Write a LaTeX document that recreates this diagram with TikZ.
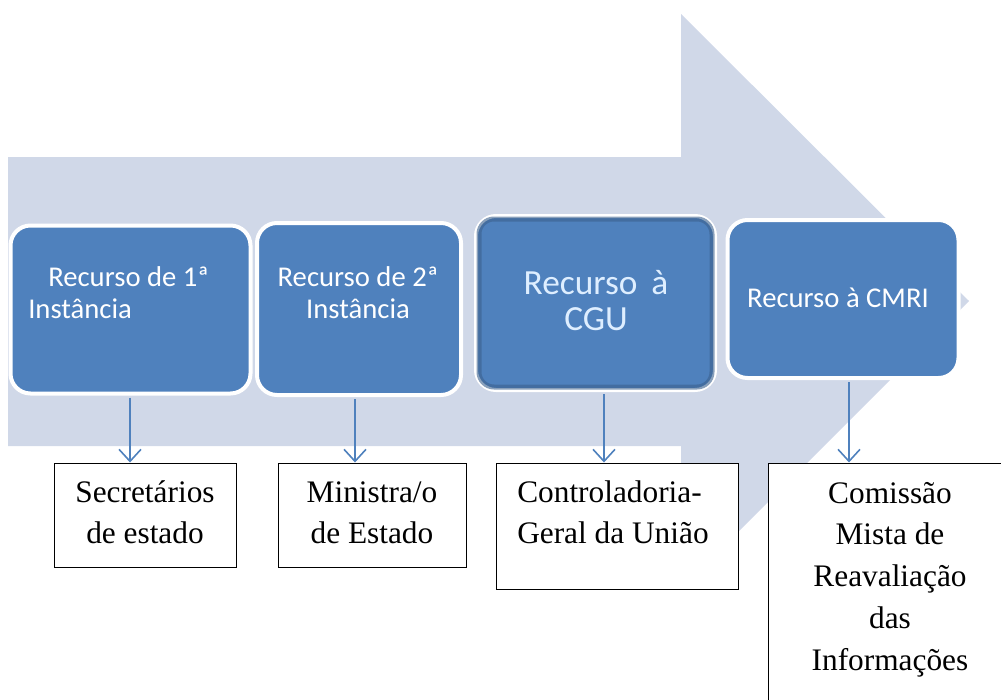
\documentclass[tikz,border=0pt]{standalone}
\usepackage{fontspec}
\setmainfont{Liberation Serif}
\newfontfamily\calibri{Carlito}
\usetikzlibrary{arrows.meta}
\newdimen\pix \pix=0.75pt

\begin{document}
\begin{tikzpicture}[x=\pix,y=-\pix,
  stage/.style={rounded corners=20\pix, fill=stage blue, draw=white, line width=4\pix, inner sep=0pt},
  stagetext/.style={font=\calibri\fontsize{21.5}{24}\selectfont, text=white, align=center, inner sep=0pt},
  office/.style={draw=black, fill=white, line width=1\pix, inner sep=0pt},
  officetext/.style={font=\fontsize{23.5}{30.5}\selectfont, align=center, inner sep=0pt},
  flow/.style={draw=stage blue, line width=1.2pt, shorten <=1.5pt, -{Straight Barb[length=9pt,width=16.5pt]}}]
\definecolor{stage blue}{RGB}{79,129,189}
\definecolor{arrow area}{RGB}{208,216,232}
\definecolor{cgu text}{RGB}{222,238,255}
\useasboundingbox (0,0) rectangle (1001,700);
\clip (0,0) rectangle (1001,700);

% big process arrow
\fill[arrow area] (8,157) -- (681,157) -- (681,14) -- (969,301) -- (681,589) -- (681,446) -- (8,446) -- cycle;

\node[stage, minimum width=240\pix, minimum height=168\pix] (b1) at (130.5,309.5) {};
\node[stage, minimum width=204\pix, minimum height=172\pix] (b2) at (359,309) {};
\node[stage, minimum width=239\pix, minimum height=174\pix] (b3) at (595.5,303) {};
\draw[stage blue!75!black, opacity=.6, line width=5\pix, rounded corners=15\pix]
  ([shift={(5,5)}]b3.north west) rectangle ([shift={(-5,-5)}]b3.south east);
\node[stage, minimum width=231\pix, minimum height=158\pix] (b4) at (843,299) {};

% last baselines
\node[stagetext, align=left, anchor=base west] (t1) at (28,318) {\hspace*{20\pix}Recurso de 1ª\\Instância};
\node[stagetext, anchor=base] (t2) at (358,318) {Recurso de 2ª\\Instância};
\node[stagetext, text=cgu text, font=\calibri\fontsize{26.5}{26.5}\selectfont, anchor=base] (t3) at (596,330) {Recurso\, à\\CGU};
\node[stagetext, anchor=base] (t4) at (838,307) {Recurso à CMRI};

\node[office, minimum width=182\pix, minimum height=104\pix] (sA) at (145,515) {};
\node[office, minimum width=188\pix, minimum height=104\pix] (sB) at (372,515) {};
\node[office, minimum width=242\pix, minimum height=126\pix] (sC) at (617,526) {};
\node[office, minimum width=244\pix, minimum height=300\pix] (sD) at (890,613) {};

\node[officetext, anchor=base] (tA) at (145,543) {Secretários\\de estado};
\node[officetext, anchor=base] (tB) at (372,543) {Ministra/o\\de Estado};
\node[officetext, align=left, anchor=base west] (tC) at (517,543) {Controladoria-\\Geral da União};
\node[officetext, font=\fontsize{23.5}{31.3}\selectfont, anchor=base] (tD) at (890,670) {Comissão\\Mista de\\Reavaliação\\das\\Informações};

\draw[flow] (130,0 |- b1.south) -- (130,0 |- sA.north);
\draw[flow] (355,0 |- b2.south) -- (355,0 |- sB.north);
\draw[flow] (604,0 |- b3.south) -- (604,0 |- sC.north);
\draw[flow] (849,0 |- b4.south) -- (849,0 |- sD.north);

\end{tikzpicture}
\end{document}
